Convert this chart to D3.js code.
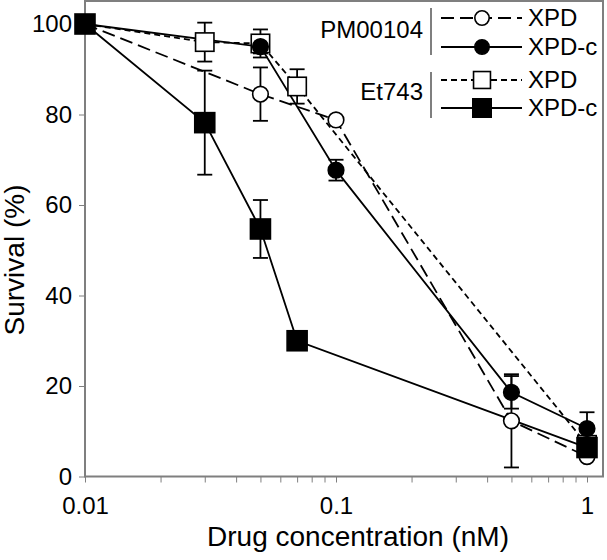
<!DOCTYPE html>
<html>
<head>
<meta charset="utf-8">
<script src="https://cdn.jsdelivr.net/npm/d3@7"></script>
<style>
  body { margin: 0; background: #fff; }
  svg { display: block; }
  text { font-family: "Liberation Sans", Arial, sans-serif; fill: #000; }
</style>
</head>
<body>
<svg id="chart" width="607" height="560"></svg>
<script>
// ---- data ----
const concPM = [0.01, 0.05, 0.1, 0.5, 1];
const pmXPD = [100, 84.5, 78.8, 12.3, 4.4];
const pmXPDerr = [0, 5.9, 0, 10.3, 0];
const pmXPDc = [100, 95, 67.7, 18.6, 10.6];
const pmXPDcErr = [0, 1.5, 2.3, 3.6, 3.6];

const concEt = [0.01, 0.03, 0.05, 0.07, 1];
const etXPD = [100, 96, 95.7, 86.2, 7];
const etXPDerr = [0, 4.3, 3.1, 3.8, 0];
const etXPDc = [100, 78.2, 54.7, 30, 6.4];
const etXPDcErr = [0, 11.5, 6.4, 0, 0];

const yTicks = [0, 20, 40, 60, 80, 100];
const xMajor = [0.01, 0.1, 1];
const xTickLabels = ["0.01", "0.1", "1"];
const groupNames = ["PM00104", "Et743"];
const seriesNames = ["XPD", "XPD-c"];
const xTitle = "Drug concentration (nM)";
const yTitle = "Survival (%)";

// ---- layout ----
const FONT = "'Liberation Sans', Arial, sans-serif";
const L = 85, R = 603, T = 1, B = 476.5;
const x = d3.scaleLog().domain([0.01, 1]).range([85, 587]);
const y = d3.scaleLinear().domain([0, 100]).range([B, 24]);

const svg = d3.select("#chart");
const grey = "#7f7f7f";

// minor + major ticks on log axis
const xTickVals = [];
[0.01, 0.1].forEach(d => { for (let k = 1; k < 10; k++) xTickVals.push(+(d * k).toFixed(4)); });
xTickVals.push(1);

const xAxis = d3.axisBottom(x).tickValues(xTickVals).tickSize(6)
  .tickFormat(d => { const i = xMajor.findIndex(m => Math.abs(m - d) < 1e-9); return i >= 0 ? xTickLabels[i] : ""; })
  .tickPadding(14);
const gx = svg.append("g").attr("transform", `translate(0,${B})`).call(xAxis);
gx.select(".domain").remove();
gx.selectAll("line").attr("stroke", grey);
gx.selectAll("text").attr("font-size", 24).attr("font-family", FONT).attr("fill", "#000");

const yAxis = d3.axisLeft(y).tickValues(yTicks).tickSize(6).tickPadding(7);
const gy = svg.append("g").attr("transform", `translate(${L},0)`).call(yAxis);
gy.select(".domain").remove();
gy.selectAll("line").attr("stroke", grey);
gy.selectAll("text").attr("font-size", 24).attr("font-family", FONT).attr("fill", "#000");

// frame
svg.append("rect").attr("x", L).attr("y", T).attr("width", R - L).attr("height", B - T)
  .attr("fill", "none").attr("stroke", grey).attr("stroke-width", 2);

// titles
svg.append("text").attr("x", 358).attr("y", 546).attr("text-anchor", "middle")
  .attr("font-size", 28).attr("font-family", FONT).text(xTitle);
svg.append("text").attr("transform", "translate(24,260) rotate(-90)").attr("text-anchor", "middle")
  .attr("font-size", 28).attr("font-family", FONT).text(yTitle);

// series
const series = [
  { conc: concPM, val: pmXPD, err: pmXPDerr, dash: "13,6", shape: "circle", fill: "#fff" },
  { conc: concEt, val: etXPD, err: etXPDerr, dash: "6,4", shape: "square", fill: "#fff" },
  { conc: concEt, val: etXPDc, err: etXPDcErr, dash: null, shape: "square", fill: "#000" },
  { conc: concPM, val: pmXPDc, err: pmXPDcErr, dash: null, shape: "circle", fill: "#000" }
];

const line = d3.line().x(d => x(d[0])).y(d => y(d[1]));
const plot = svg.append("g");

// lines first
series.forEach(s => {
  const pts = s.conc.map((c, i) => [c, s.val[i]]);
  plot.append("path").attr("d", line(pts)).attr("fill", "none").attr("stroke", "#000")
    .attr("stroke-width", 1.8).attr("stroke-dasharray", s.dash);
});
// error bars
series.forEach(s => {
  s.conc.forEach((c, i) => {
    const e = s.err[i]; if (!e) return;
    const cx = x(c), y1 = y(s.val[i] + e), y2 = y(s.val[i] - e);
    plot.append("line").attr("x1", cx).attr("x2", cx).attr("y1", y1).attr("y2", y2).attr("stroke", "#000").attr("stroke-width", 1.8);
    [y1, y2].forEach(yy => plot.append("line").attr("x1", cx - 7.5).attr("x2", cx + 7.5).attr("y1", yy).attr("y2", yy).attr("stroke", "#000").attr("stroke-width", 1.8));
  });
});
function marker(g, s, cx, cy, k) {
  if (s.shape === "circle") {
    g.append("circle").attr("cx", cx).attr("cy", cy).attr("r", 7.8 * k).attr("fill", s.fill).attr("stroke", "#000").attr("stroke-width", 1.6);
  } else {
    const h = (s.fill === "#000" ? 10 : 9.2) * k;
    g.append("rect").attr("x", cx - h).attr("y", cy - h).attr("width", 2 * h).attr("height", 2 * h).attr("fill", s.fill).attr("stroke", "#000").attr("stroke-width", 1.6);
  }
}
// markers
series.forEach(s => {
  s.conc.forEach((c, i) => marker(plot, s, x(c), y(s.val[i]), 1));
});

// legend
const lg = svg.append("g");
const rowY = [18, 47, 80, 108];
const legOrder = [series[0], series[3], series[1], series[2]];
legOrder.forEach((s, i) => {
  lg.append("line").attr("x1", 441).attr("x2", 522).attr("y1", rowY[i]).attr("y2", rowY[i])
    .attr("stroke", "#000").attr("stroke-width", 1.8).attr("stroke-dasharray", s.dash);
  marker(lg, s, 482, rowY[i], 0.92);
  lg.append("text").attr("x", 528).attr("y", rowY[i]).attr("dy", "0.35em").attr("font-size", 24).attr("font-family", FONT).text(seriesNames[i % 2]);
});
const grpY = [[8, 55, 30], [72, 118, 92]];
grpY.forEach((g, i) => {
  lg.append("line").attr("x1", 431).attr("x2", 431).attr("y1", g[0]).attr("y2", g[1]).attr("stroke", grey).attr("stroke-width", 2);
  lg.append("text").attr("x", 423).attr("y", g[2]).attr("dy", "0.35em").attr("text-anchor", "end").attr("font-size", 24).attr("font-family", FONT).text(groupNames[i]);
});
</script>
</body>
</html>
